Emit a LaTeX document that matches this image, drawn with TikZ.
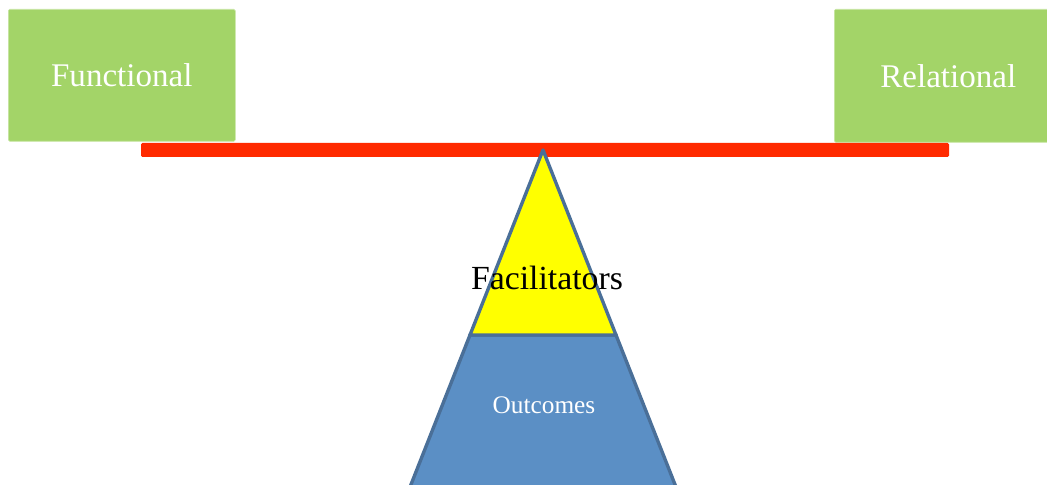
\documentclass[tikz,border=0pt]{standalone}
\usepackage{fontspec}
\setmainfont{Liberation Serif}
\usetikzlibrary{positioning,calc}
\definecolor{leafgreen}{HTML}{A3D468}
\definecolor{beamred}{HTML}{FF2A00}
\definecolor{pivotyellow}{HTML}{FFFF00}
\definecolor{baseblue}{HTML}{5B8FC5}
\definecolor{edgeblue}{HTML}{4A6F98}

\begin{document}
\begin{tikzpicture}[
	x=0.025cm, y=-0.025cm,
	weight/.style = {rectangle, draw=leafgreen!60!white, fill=leafgreen,
		rounded corners=1pt, inner sep=0pt, anchor=north west,
		font=\fontsize{23.5}{28}\selectfont, text=white},
	tag/.style = {inner sep=0pt},
	]
	\useasboundingbox (0,0) rectangle (1047,485);
	
	\begin{scope}
	\clip (0,0) rectangle (1047,485);
	\node[weight, minimum width=227*0.025cm, minimum height=132*0.025cm] (func) at (8,9) {\raisebox{-2pt}{Functional}};
	\node[weight, minimum width=228*0.025cm, minimum height=133*0.025cm] (rel) at (834,9) {\raisebox{-2pt}{Relational}};
	\end{scope}
	
	% beam
	\fill[beamred, rounded corners=1pt] (141,143) rectangle (949,157);
	
	% pivot
	\coordinate (apex) at (543,150);
	\begin{scope}
	\clip (0,0) rectangle (1047,485);
	\draw[edgeblue, line width=2.4pt, fill=baseblue, line join=miter]
	(470,335) -- (616,335) -- ($(apex)!1.9!(616,335)$) -- ($(apex)!1.9!(470,335)$) -- cycle;
	\draw[edgeblue, line width=2.4pt, fill=pivotyellow, line join=round]
	(apex) -- (616,335) -- (470,335) -- cycle;
	\end{scope}
	
	\node[tag, font=\fontsize{24}{28}\selectfont] (fac) at (547,278) {Facilitators};
	\node[tag, font=\fontsize{18}{22}\selectfont, text=white] (out) at (544,405) {Outcomes};
\end{tikzpicture}
\end{document}
